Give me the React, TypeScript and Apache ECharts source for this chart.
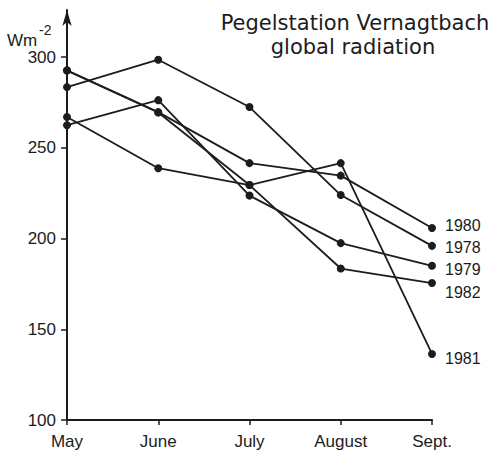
import React, { useEffect, useRef } from "react";
import * as echarts from "echarts";

const months = ["May", "June", "July", "August", "Sept."];
const yTicks = [100, 150, 200, 250, 300];

const s1978 = [283.5, 298.6, 272.5, 224, 196];
const s1980 = [292.8, 269.7, 241.6, 234.7, 205.8];
const s1981 = [267, 238.8, 229.5, 241.6, 136.4];
const s1982 = [292.6, 269.5, 229.5, 183.5, 175.5];
const s1979 = [262.5, 276.3, 223.7, 197.5, 185];

const seriesList = [
  { name: "1978", data: s1978, dy: 2 },
  { name: "1980", data: s1980, dy: -3 },
  { name: "1981", data: s1981, dy: 5 },
  { name: "1982", data: s1982, dy: 9 },
  { name: "1979", data: s1979, dy: 4 },
];

const INK = "#1c1c1c";
const FONT = "Liberation Sans";

export default function App() {
  const ref = useRef<HTMLDivElement>(null);
  useEffect(() => {
    document.body.style.margin = "0";
    if (!ref.current) return;
    const chart = echarts.init(ref.current, null, { renderer: "svg" });
    chart.setOption({
      animation: false,
      backgroundColor: "#fff",
      grid: { left: 67, right: 65, top: 10, bottom: 35 },
      xAxis: {
        type: "category",
        data: months,
        boundaryGap: false,
        axisLine: { lineStyle: { color: INK, width: 2 } },
        axisTick: { show: true, length: 5, lineStyle: { color: INK, width: 1.5 } },
        axisLabel: { color: INK, fontSize: 17, fontFamily: FONT, margin: 13 },
        splitLine: { show: false },
      },
      yAxis: {
        type: "value",
        min: 100,
        max: 326,
        axisLine: {
          show: true,
          symbol: ["none", "arrow"],
          symbolSize: [7, 16],
          lineStyle: { color: INK, width: 2 },
        },
        axisTick: { show: true, length: 6, customValues: yTicks, lineStyle: { color: INK, width: 1.5 } },
        axisLabel: { color: INK, fontSize: 17, fontFamily: FONT, margin: 11, customValues: yTicks },
        splitLine: { show: false },
      },
      graphic: [
        {
          type: "text",
          x: 355,
          y: 23,
          style: {
            text: "Pegelstation Vernagtbach",
            fill: INK,
            font: "21px 'DejaVu Sans'",
            textAlign: "center",
            textVerticalAlign: "middle",
          },
        },
        {
          type: "text",
          x: 353,
          y: 47,
          style: {
            text: "global radiation",
            fill: INK,
            font: "21px 'DejaVu Sans'",
            textAlign: "center",
            textVerticalAlign: "middle",
          },
        },
        {
          type: "text",
          x: 7,
          y: 40,
          style: {
            text: "Wm",
            fill: INK,
            font: "17px 'Liberation Sans'",
            textAlign: "left",
            textVerticalAlign: "middle",
          },
        },
        {
          type: "text",
          x: 39,
          y: 30,
          style: {
            text: "-2",
            fill: INK,
            font: "14px 'Liberation Sans'",
            textAlign: "left",
            textVerticalAlign: "middle",
          },
        },
      ],
      series: seriesList.map((s) => ({
        name: s.name,
        type: "line",
        data: s.data.map((v, i) =>
          i === s.data.length - 1
            ? {
                value: v,
                label: {
                  show: true,
                  position: "right",
                  distance: 9,
                  offset: [0, s.dy],
                  formatter: s.name,
                  color: INK,
                  fontSize: 16,
                  fontFamily: FONT,
                },
              }
            : v
        ),
        symbol: "circle",
        symbolSize: 8,
        itemStyle: { color: INK },
        lineStyle: { color: INK, width: 1.8 },
        z: 3,
      })),
    });
    return () => chart.dispose();
  }, []);
  return <div ref={ref} style={{ width: 497, height: 455 }} />;
}
